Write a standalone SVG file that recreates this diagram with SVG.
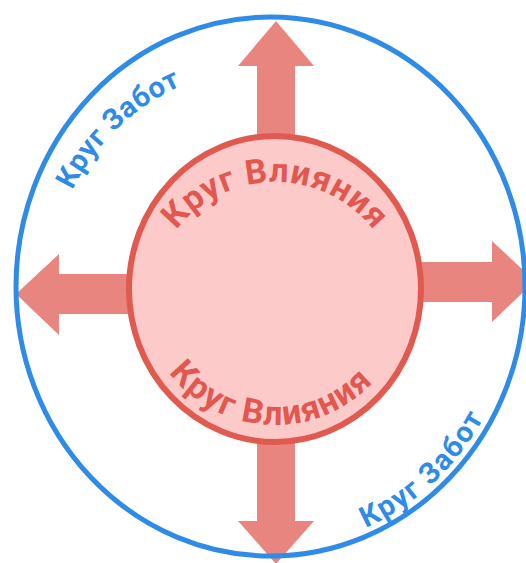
<svg xmlns="http://www.w3.org/2000/svg" width="526" height="563" viewBox="0 0 526 563">
<style>
.arrow{fill:#E8857F}
.inner{fill:#FDCACA;stroke:#E05A50;stroke-width:6}
.outer{fill:none;stroke:#2E8BE8;stroke-width:5}
.tin{font-family:Roboto,"Open Sans",sans-serif;font-weight:700;font-size:34px;fill:#E0584F}
.tout{font-family:Roboto,"Open Sans",sans-serif;font-weight:700;font-size:29px;fill:#2E8BE8}
</style>
<defs>
<path id="pInTop" d="M150,307 A125,125 0 0 1 400,307"/>
<path id="pInBot" d="M141,291 A134,134 0 0 0 409,291"/>
<path id="pOutTL" d="M50,287 A220,220 0 0 1 270,67"/>
<path id="pOutBR" d="M270.5,548 A246.5,261.5 0 0 0 517,286.5"/>
</defs>
<rect width="526" height="563" fill="#ffffff"/>
<g id="connectors">
<polygon class="arrow" points="276,21 314,66 295,66 295,142 257,142 257,66 238,66"/>
<polygon class="arrow" points="276,564 314,521 295,521 295,436 257,436 257,521 238,521"/>
<polygon class="arrow" points="16,294 59,254 59,274 134,274 134,314 59,314 59,335"/>
<polygon class="arrow" points="535,281 492,241 492,262 416,262 416,302 492,302 492,322"/>
</g>
<g id="circle-influence">
<ellipse class="inner" cx="275" cy="289" rx="146" ry="153"/>
<text class="tin"><textPath href="#pInTop" startOffset="50%" text-anchor="middle" textLength="227" lengthAdjust="spacing">Круг Влияния</textPath></text>
<text class="tin"><textPath href="#pInBot" startOffset="204" text-anchor="middle" textLength="232" lengthAdjust="spacing">Круг Влияния</textPath></text>
</g>
<g id="circle-concern">
<ellipse class="outer" cx="270.5" cy="286.5" rx="254.5" ry="269.5"/>
<text class="tout"><textPath href="#pOutTL" startOffset="177" text-anchor="middle" textLength="154" lengthAdjust="spacing">Круг Забот</textPath></text>
<text class="tout"><textPath href="#pOutBR" startOffset="180" text-anchor="middle" textLength="164" lengthAdjust="spacing">Круг Забот</textPath></text>
</g>
</svg>
